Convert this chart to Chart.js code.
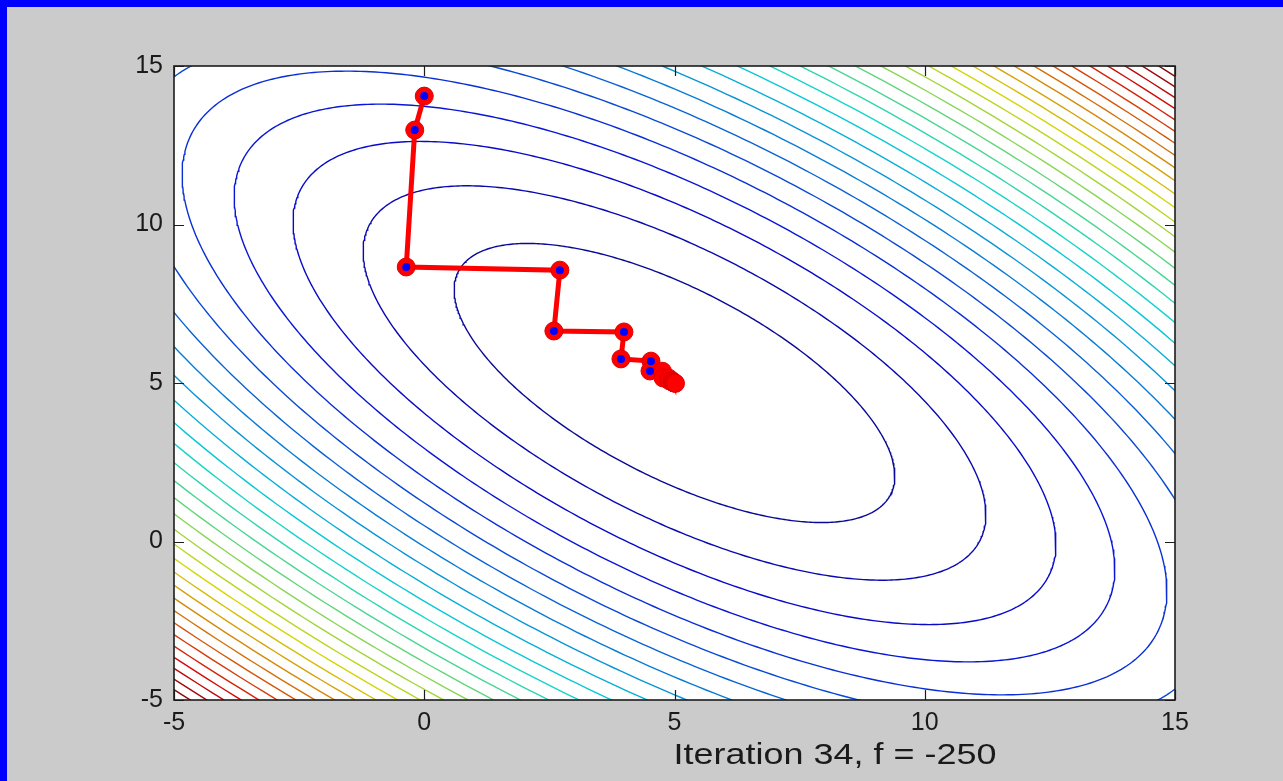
<!DOCTYPE html>
<html>
<head>
<meta charset="utf-8">
<script src="https://cdn.jsdelivr.net/npm/chart.js@4.4.1/dist/chart.umd.min.js"></script>
<style>
  html, body { margin: 0; padding: 0; background: #cbcbcb; overflow: hidden; }
  canvas { display: block; }
</style>
</head>
<body>
<canvas id="c" width="1283" height="781"></canvas>
<script>
// ---------------- data ----------------
const xTicks = [-5, 0, 5, 10, 15];
const yTicks = [-5, 0, 5, 10, 15];
const xRange = [-5, 15];
const yRange = [-5, 15];

// objective: f(x,y) = fMin + qA*((x-cx)^2 + (y-cy)^2) + 2*qB*(x-cx)*(y-cy)
const quadCenter = [5, 5];
const quadA = 3;
const quadB = 2;
const fMin = -250;
const fMax = 750;

// contour levels of f (30 evenly spaced levels between min and max)
const contourLevels = [-217.7, -185.5, -153.2, -121.0, -88.7, -56.5, -24.2, 8.1, 40.3, 72.6,
  104.8, 137.1, 169.4, 201.6, 233.9, 266.1, 298.4, 330.6, 362.9, 395.2,
  427.4, 459.7, 491.9, 524.2, 556.5, 588.7, 621.0, 653.2, 685.5, 717.7];

// descent path
const pathX = [0.00, -0.19, -0.36, 2.71, 2.59, 3.99, 3.93, 4.53, 4.51, 4.76, 4.77, 4.89, 4.90, 4.95, 4.96, 4.98, 4.98, 4.99, 5.00, 5.00, 5.02];
const pathY = [14.05, 12.98, 8.66, 8.56, 6.64, 6.61, 5.76, 5.69, 5.38, 5.37, 5.16, 5.15, 5.07, 5.07, 5.03, 5.03, 5.01, 5.01, 5.00, 5.00, 4.99];
const markedCount = 9;

const titleText = 'Iteration 34, f = -250';

// ---------------- helpers ----------------
function jet(t) {
  let idx = Math.floor(t * 64) + 1;
  idx = Math.max(1, Math.min(64, idx));
  const u = k => (k <= 16 ? k / 16 : (k <= 31 ? 1 : (48 - k) / 16));
  const r = idx >= 25 ? u(idx - 24) : 0;
  const g = (idx >= 9 && idx <= 55) ? u(idx - 8) : 0;
  const b = idx <= 39 ? u(idx + 8) : 0;
  // slight muting to resemble the rendered reference
  const m = c => Math.round(c * 255 * 0.8 + 45 * 0.2);
  return `rgb(${m(r)},${m(g)},${m(b)})`;
}

function contourPoints(level) {
  const L = level - fMin;
  const hp = Math.sqrt(L / (quadA + quadB));
  const hq = Math.sqrt(L / (quadA - quadB));
  const pts = [];
  const n = 480;
  for (let i = 0; i <= n; i++) {
    const t = (i / n) * 2 * Math.PI;
    const p = hp * Math.cos(t), q = hq * Math.sin(t);
    pts.push({ x: quadCenter[0] + (p + q) / Math.SQRT2, y: quadCenter[1] + (p - q) / Math.SQRT2 });
  }
  return pts;
}

const pathData = pathX.map((x, i) => ({ x, y: pathY[i] }));
const markData = pathData.slice(0, markedCount);

const datasets = [];
datasets.push({
  label: 'marks', data: markData, showLine: false, order: 0,
  pointRadius: 4, pointBackgroundColor: '#0000ff', pointBorderColor: '#0000ff', pointBorderWidth: 0,
  clip: 0
});
datasets.push({
  label: 'path', data: pathData, showLine: true, order: 1,
  borderColor: '#ff0000', borderWidth: 5, tension: 0,
  pointRadius: 9, pointBackgroundColor: '#ff0000', pointBorderColor: '#e00000', pointBorderWidth: 1,
  clip: 0
});
contourLevels.forEach(lv => {
  datasets.push({
    label: 'c' + lv, data: contourPoints(lv), showLine: true, order: 2,
    borderColor: jet((lv - fMin) / (fMax - fMin)), borderWidth: 1.4, tension: 0,
    pointRadius: 0, clip: 0
  });
});

const FONT = '"Liberation Sans", Arial, sans-serif';

const framePlugin = {
  id: 'frame',
  beforeDraw(chart) {
    const ctx = chart.ctx, a = chart.chartArea;
    ctx.save();
    ctx.fillStyle = '#cbcbcb';
    ctx.fillRect(0, 0, chart.width, chart.height);
    ctx.fillStyle = '#0000ff';
    ctx.fillRect(0, 0, chart.width, 7);
    ctx.fillRect(0, 0, 7, chart.height);
    ctx.fillStyle = '#ffffff';
    ctx.fillRect(a.left, a.top, a.right - a.left, a.bottom - a.top);
    ctx.restore();
  },
  afterDraw(chart) {
    const ctx = chart.ctx, a = chart.chartArea;
    const xs = chart.scales.x, ys = chart.scales.y;
    ctx.save();
    ctx.strokeStyle = '#1c1c1c';
    ctx.lineWidth = 1.2;
    const tl = 10;
    ctx.beginPath();
    xTicks.forEach(v => {
      const px = Math.round(xs.getPixelForValue(v)) + 0.5;
      ctx.moveTo(px, a.bottom); ctx.lineTo(px, a.bottom - tl);
      ctx.moveTo(px, a.top); ctx.lineTo(px, a.top + tl);
    });
    yTicks.forEach(v => {
      const py = Math.round(ys.getPixelForValue(v)) + 0.5;
      ctx.moveTo(a.left, py); ctx.lineTo(a.left + tl, py);
      ctx.moveTo(a.right, py); ctx.lineTo(a.right - tl, py);
    });
    ctx.stroke();
    ctx.lineWidth = 1.6;
    ctx.strokeRect(a.left, a.top, a.right - a.left, a.bottom - a.top);
    // x label text
    ctx.fillStyle = '#1a1a1a';
    ctx.font = '29px ' + FONT;
    ctx.textAlign = 'center';
    ctx.textBaseline = 'alphabetic';
    ctx.translate(835, 764);
    ctx.scale(1.24, 1);
    ctx.fillText(titleText, 0, 0);
    ctx.restore();
  }
};

new Chart(document.getElementById('c'), {
  type: 'scatter',
  data: { datasets },
  options: {
    responsive: false,
    devicePixelRatio: 1,
    animation: false,
    events: [],
    layout: { padding: { left: 0, top: 66, right: 108, bottom: 0 } },
    plugins: { legend: { display: false }, tooltip: { enabled: false }, title: { display: false } },
    scales: {
      x: {
        type: 'linear', min: xRange[0], max: xRange[1],
        afterBuildTicks: s => { s.ticks = xTicks.map(v => ({ value: v })); },
        afterFit: s => { s.height = 81; },
        grid: { display: false, drawTicks: false },
        border: { display: false },
        ticks: { padding: 8, color: '#1a1a1a', font: { family: FONT, size: 25 }, maxRotation: 0, autoSkip: false }
      },
      y: {
        type: 'linear', min: yRange[0], max: yRange[1],
        afterBuildTicks: s => { s.ticks = yTicks.map(v => ({ value: v })); },
        afterFit: s => { s.width = 174; },
        grid: { display: false, drawTicks: false },
        border: { display: false },
        ticks: { padding: 11, color: '#1a1a1a', font: { family: FONT, size: 25 }, autoSkip: false }
      }
    }
  },
  plugins: [framePlugin]
});
</script>
</body>
</html>
